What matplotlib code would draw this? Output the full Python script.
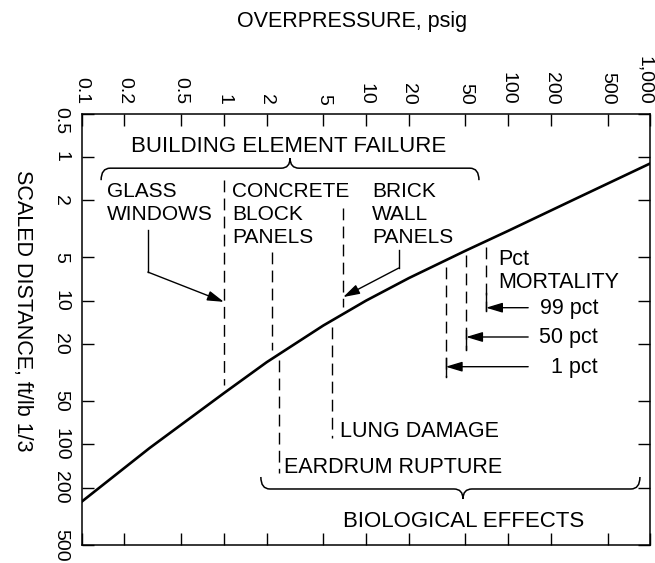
import numpy as np
import matplotlib
matplotlib.use('Agg')
import matplotlib.pyplot as plt
from matplotlib.path import Path
from matplotlib.patches import PathPatch
import matplotlib.transforms as mtransforms
from matplotlib.ticker import FixedLocator, FixedFormatter, NullLocator

plt.rcParams['font.family'] = ['Liberation Sans', 'DejaVu Sans']

# ---------------- data ----------------
overpressure = [0.1, 0.3, 1, 2, 5, 10, 20, 50, 100, 300, 1000]
scaled_distance = [250, 106, 44, 26.8, 14.9, 10.0, 6.97, 4.5, 3.27, 1.95, 1.11]

x_ticks = [0.1, 0.2, 0.5, 1, 2, 5, 10, 20, 50, 100, 200, 500, 1000]
x_tick_labels = ['0.1', '0.2', '0.5', '1', '2', '5', '10', '20', '50', '100', '200', '500', '1,000']
y_ticks = [0.5, 1, 2, 5, 10, 20, 50, 100, 200, 500]
y_tick_labels = ['0.5', '1', '2', '5', '10', '20', '50', '100', '200', '500']

# damage thresholds (dashed verticals): overpressure, top Z, bottom Z
threshold_names = ['glass windows', 'concrete block panels', 'brick wall panels',
                   'eardrum rupture', 'lung damage', '1 pct', '50 pct', '99 pct']
threshold_p = [1.0, 2.17, 6.9, 2.44, 5.76, 36.3, 50.5, 69.7]
threshold_z_top = [1.45, 4.59, 2.27, 25.9, 15.3, 5.83, 4.81, 4.22]
threshold_z_bottom = [38.6, 22.1, 11.1, 158, 90.6, 34.0, 22.1, 11.9]

# mortality arrows
mort_labels = ['1 pct', '50 pct', '99 pct']
mort_p = [36.3, 50.5, 69.7]
mort_arrow_z = [28.8, 17.9, 11.2]
mort_bar_z = [25.1, 16.0, 8.85]
mort_label_z = [31.9, 19.7, 12.3]
mort_arrow_from_p = 138
mort_label_right_p = 428

# leader arrows (polylines ending with arrowhead)
glass_arrow_p = [0.292, 0.292, 1.0]
glass_arrow_z = [3.23, 6.33, 10.2]
brick_arrow_p = [17.0, 17.0, 6.9]
brick_arrow_z = [4.45, 5.93, 9.45]

# braces: left p, right p, cusp p, Z of brace line
building_brace = [0.137, 62.2, 2.92, 1.2]
bio_brace = [1.82, 843, 48, 204]

# ---------------- figure ----------------
fig = plt.figure(figsize=(6.55, 5.63), dpi=100)
ax = fig.add_axes([0.1247, 0.0320, 0.8684, 0.7664])
ax.set_xscale('log')
ax.set_yscale('log')
ax.set_xlim(0.1, 1000)
ax.set_ylim(500, 0.5)

for s in ax.spines.values():
    s.set_linewidth(1.1)

ax.xaxis.set_major_locator(FixedLocator(x_ticks))
ax.xaxis.set_major_formatter(FixedFormatter(x_tick_labels))
ax.xaxis.set_minor_locator(NullLocator())
ax.yaxis.set_major_locator(FixedLocator(y_ticks))
ax.yaxis.set_major_formatter(FixedFormatter(y_tick_labels))
ax.yaxis.set_minor_locator(NullLocator())

ax.tick_params(axis='x', which='major', direction='in', length=8.6, width=1.0,
               top=True, bottom=True, labeltop=True, labelbottom=False,
               labelsize=14, pad=6.5, labelrotation=-90)
ax.tick_params(axis='y', which='major', direction='in', length=8.6, width=1.0,
               left=True, right=True, labelleft=True, labelright=False,
               labelsize=14, pad=9.0, labelrotation=-90)
xlabs = ax.get_xticklabels()
for lab in xlabs:
    lab.set_ha('center')
    lab.set_va('bottom')
xt = ax.xaxis.get_major_ticks()
xt[-1].label2.set_ha('right')
xt[-1].label2.set_transform(xt[-1].label2.get_transform() +
                            mtransforms.ScaledTranslation(3 / 100, 0, fig.dpi_scale_trans))
for lab in ax.get_yticklabels():
    lab.set_ha('right')
    lab.set_va('center')

# shift the first y label (0.5) down a little as in the reference
t0 = ax.yaxis.get_major_ticks()[0]
t0.label1.set_transform(t0.label1.get_transform() +
                        mtransforms.ScaledTranslation(0, -7 / 100, fig.dpi_scale_trans))

# main curve
ax.plot(overpressure, scaled_distance, color='black', lw=1.9, solid_joinstyle='round')

# dashed threshold lines
for p, z0, z1 in zip(threshold_p, threshold_z_top, threshold_z_bottom):
    ax.plot([p, p], [z0, z1], color='black', lw=1.0, dashes=(8.5, 4.5))

# leader arrows
arrow_kw = dict(arrowstyle='-|>,head_length=1.0,head_width=0.3', color='black',
                lw=1.0, shrinkA=0, shrinkB=0, mutation_scale=10)
for ap, az in [(glass_arrow_p, glass_arrow_z), (brick_arrow_p, brick_arrow_z)]:
    ax.plot(ap[:2], az[:2], color='black', lw=1.0)
    ax.annotate('', xy=(ap[2], az[2]), xytext=(ap[1], az[1]), arrowprops=arrow_kw)

for p, za, zb, zl, lab in zip(mort_p, mort_arrow_z, mort_bar_z, mort_label_z, mort_labels):
    ax.annotate('', xy=(p, za), xytext=(mort_arrow_from_p, za), arrowprops=arrow_kw)
    ax.plot([p, p], [zb, threshold_z_bottom[threshold_names.index(lab)]], color='black', lw=1.0)
    ax.text(mort_label_right_p, zl, lab, ha='right', va='baseline', fontsize=15.5)

# braces
fig.canvas.draw()


def draw_brace(b, tips_down, hook=12, cusp=10, r=9):
    p0, p1, pm, z = b
    (x0, Y), (x1, _), (xm, _) = ax.transData.transform([(p0, z), (p1, z), (pm, z)])
    sgn = -1 if tips_down else 1
    verts = [(x0, Y + sgn * hook), (x0, Y), (x0 + r, Y), (xm - r, Y), (xm, Y),
             (xm, Y - sgn * cusp), (xm, Y), (xm + r, Y), (x1 - r, Y), (x1, Y),
             (x1, Y + sgn * hook)]
    codes = [Path.MOVETO, Path.CURVE3, Path.CURVE3, Path.LINETO, Path.CURVE3,
             Path.CURVE3, Path.CURVE3, Path.CURVE3, Path.LINETO, Path.CURVE3, Path.CURVE3]
    patch = PathPatch(Path(verts, codes), facecolor='none', edgecolor='black', lw=1.1,
                      transform=mtransforms.IdentityTransform(), clip_on=False)
    fig.add_artist(patch)


draw_brace(building_brace, tips_down=True)
draw_brace(bio_brace, tips_down=False)

# annotation texts
ax.text(2.87, 0.927, 'BUILDING ELEMENT FAILURE', ha='center', va='baseline', fontsize=16)
ax.text(48.4, 375, 'BIOLOGICAL EFFECTS', ha='center', va='baseline', fontsize=16)

line_z = [1.905, 2.75, 3.98]
for left_p, lines in [(0.151, ['GLASS', 'WINDOWS']),
                      (1.14, ['CONCRETE', 'BLOCK', 'PANELS']),
                      (11.0, ['BRICK', 'WALL', 'PANELS'])]:
    for z, t in zip(line_z, lines):
        ax.text(left_p, z, t, ha='left', va='baseline', fontsize=15)

ax.text(84.7, 5.66, 'Pct', ha='left', va='baseline', fontsize=15.5)
ax.text(84.7, 8.18, 'MORTALITY', ha='left', va='baseline', fontsize=15.5)
ax.text(6.56, 88.9, 'LUNG DAMAGE', ha='left', va='baseline', fontsize=15.5)
ax.text(2.65, 158, 'EARDRUM RUPTURE', ha='left', va='baseline', fontsize=15.5)

# axis titles
fig.text(0.537, 1 - 27 / 563, 'OVERPRESSURE, psig', ha='center', va='baseline', fontsize=15.5)
fig.text(22 / 655, 1 - 311 / 563, 'SCALED DISTANCE, ft/lb 1/3', ha='center', va='center',
         rotation=-90, fontsize=15.5)

fig.savefig('out.png', dpi=100)
